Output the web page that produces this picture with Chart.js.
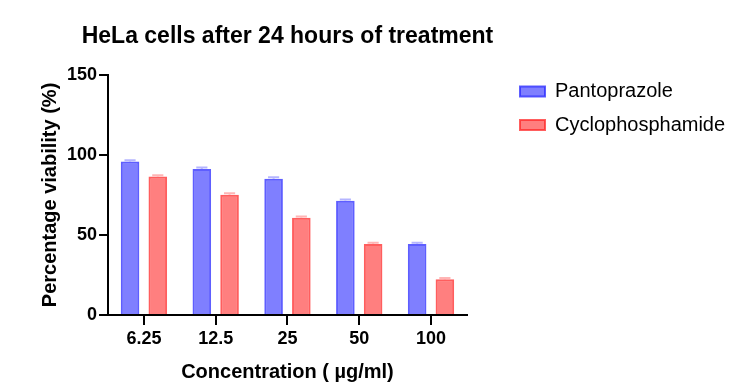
<!DOCTYPE html>
<html>
<head>
<meta charset="utf-8">
<script src="https://cdn.jsdelivr.net/npm/chart.js@4.4.1/dist/chart.umd.min.js"></script>
<style>
    html, body { margin: 0; padding: 0; background: #fff; }
    #wrap { width: 734px; height: 385px; }
</style>
</head>
<body>
<div id="wrap"><canvas id="bar-chart-hela"></canvas></div>
<script>
const concentrations = ["6.25", "12.5", "25", "50", "100"];
const pantoprazole = [95.9, 91.3, 85.2, 71.4, 44.3];
const pantoprazoleErr = [0.8, 0.8, 0.8, 0.8, 0.8];
const cyclophosphamide = [86.5, 75.2, 60.7, 44.3, 22.3];
const cyclophosphamideErr = [0.8, 0.8, 0.8, 0.8, 0.8];
const yTicks = [0, 50, 100, 150];

const fontFamily = "'Liberation Sans', Arial, sans-serif";
const errors = [pantoprazoleErr, cyclophosphamideErr];
const errorColors = ["rgba(70,70,255,0.4)", "rgba(255,70,70,0.4)"];

// small caps above each bar (SD)
const errorBars = {
    id: "errorBars",
    afterDatasetsDraw(chart) {
        const ctx = chart.ctx;
        const y = chart.scales.y;
        chart.data.datasets.forEach(function (ds, i) {
            const meta = chart.getDatasetMeta(i);
            meta.data.forEach(function (bar, j) {
                const top = y.getPixelForValue(ds.data[j] + errors[i][j]);
                const half = bar.width * 0.3;
                ctx.save();
                ctx.strokeStyle = errorColors[i];
                ctx.lineWidth = 2;
                ctx.beginPath();
                ctx.moveTo(bar.x, bar.y);
                ctx.lineTo(bar.x, top);
                ctx.moveTo(bar.x - half, top);
                ctx.lineTo(bar.x + half, top);
                ctx.stroke();
                ctx.restore();
            });
        });
    },
};

// legend sits further right, title is centred on the plot but wider than it
const boxSpot = {
    id: "boxSpot",
    afterLayout(chart) {
        const l = chart.legend;
        if (l) {
            const w = l.width;
            const h = l.height;
            l.left = 506.5;
            l.right = l.left + w + 20;
            l.top = 68;
            l.bottom = l.top + h;
        }
        const t = chart.titleBlock;
        if (t) {
            const mid = (chart.chartArea.left + chart.chartArea.right) / 2;
            t.left = mid - 240;
            t.right = mid + 240;
            t.width = 480;
        }
    },
};

const data = {
    labels: concentrations,
    datasets: [
        {
            label: "Pantoprazole",
            data: pantoprazole,
            backgroundColor: "rgba(0,0,255,0.5)",
            borderColor: "rgba(40,40,255,0.75)",
            borderWidth: 2,
        },
        {
            label: "Cyclophosphamide",
            data: cyclophosphamide,
            backgroundColor: "rgba(255,0,0,0.5)",
            borderColor: "rgba(255,40,40,0.75)",
            borderWidth: 2,
        },
    ],
};

const option = {
    responsive: true,
    maintainAspectRatio: false,
    animation: false,
    categoryPercentage: 0.773,
    barPercentage: 0.67,
    layout: {
        padding: { left: 0, right: 38.5, top: 0, bottom: 0 },
    },
    scales: {
        x: {
            offset: true,
            grid: {
                display: true,
                drawOnChartArea: false,
                offset: false,
                tickLength: 10,
                color: "#000",
                lineWidth: 2,
            },
            border: { display: true, color: "#000", width: 2 },
            ticks: {
                color: "#000",
                padding: 3,
                font: { family: fontFamily, size: 18, weight: "bold" },
            },
            title: {
                display: true,
                text: "Concentration ( \u00b5g/ml)",
                color: "#000",
                padding: { top: 7.5, bottom: 1 },
                font: { family: fontFamily, size: 20, weight: "bold" },
            },
        },
        y: {
            min: 0,
            max: 150,
            afterBuildTicks: function (scale) {
                scale.ticks = yTicks.map(function (v) { return { value: v }; });
            },
            grid: {
                display: true,
                drawOnChartArea: false,
                tickLength: 9,
                color: "#000",
                lineWidth: 2,
            },
            border: { display: true, color: "#000", width: 2 },
            ticks: {
                color: "#000",
                padding: 2,
                font: { family: fontFamily, size: 18, weight: "bold" },
            },
            title: {
                display: true,
                text: "Percentage viability (%)",
                color: "#000",
                padding: { top: 38, bottom: 3 },
                font: { family: fontFamily, size: 20, weight: "bold" },
            },
        },
    },
    plugins: {
        title: {
            display: true,
            fullSize: false,
            text: "HeLa cells after 24 hours of treatment",
            color: "#000",
            padding: { top: 22.5, bottom: 24.9 },
            font: { family: fontFamily, size: 23, weight: "bold" },
        },
        legend: {
            display: true,
            position: "right",
            align: "start",
            maxWidth: 240,
            labels: {
                boxWidth: 25,
                boxHeight: 10,
                padding: 13.5,
                color: "#000",
                font: { family: fontFamily, size: 20 },
            },
        },
        tooltip: { enabled: false },
    },
};

new Chart(document.getElementById("bar-chart-hela").getContext("2d"), {
    type: "bar",
    data: data,
    options: option,
    plugins: [errorBars, boxSpot],
});
</script>
</body>
</html>
